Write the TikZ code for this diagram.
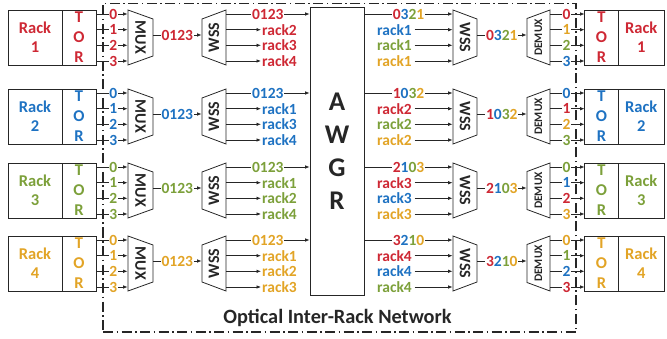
\documentclass[tikz,border=0pt]{standalone}
\usepackage{fontspec}
\setmainfont{Carlito}
\usetikzlibrary{arrows.meta}
\definecolor{cR}{RGB}{206,40,52}
\definecolor{cB}{RGB}{30,114,194}
\definecolor{cG}{RGB}{124,160,58}
\definecolor{cO}{RGB}{226,164,38}
\newcommand\lblfont{\fontsize{15.5}{15.5}\selectfont\bfseries}
\newcommand\rackfont{\fontsize{16.5}{19}\selectfont\bfseries}
\newcommand\torfont{\fontsize{16.5}{20}\selectfont\bfseries}
\newcommand\devfont{\fontsize{16}{16}\selectfont\bfseries}
\newcommand\demfont{\fontsize{11.5}{11.5}\selectfont\bfseries}
\newcommand\awgrfont{\fontsize{27}{33}\selectfont\bfseries}
\newcommand\titlefont{\fontsize{20.3}{20.3}\selectfont\bfseries}
\begin{document}
\begin{tikzpicture}[x=1pt,y=-1pt,
  box/.style={draw=black!85, line width=0.8pt},
  conn/.style={draw=black!85, line width=0.75pt, -{Latex[length=4.5pt,width=3.6pt]}},
  lbl/.style={font=\lblfont, inner sep=0.8pt, fill=white},
  lbln/.style={font=\lblfont, inner sep=1pt},
  rackbox/.style={box, minimum height=55pt, inner sep=0pt, align=center, font=\rackfont},
  dev/.style={font=\devfont, inner sep=0pt, text=black!85},
  bound/.style={draw=black!85, line width=1.1pt, dash pattern=on 10pt off 3.5pt on 1.5pt off 3.5pt}]
\useasboundingbox (0,0) rectangle (667,339);
\node[bound, minimum width=473pt, minimum height=328.5pt, inner sep=0pt] (net) at (339.5,167.75) {};
\node[font=\titlefont, text=black!85] (title) at (337.5,318) {Optical Inter-Rack Network};
\node[box, minimum width=54pt, minimum height=288pt, inner sep=0pt] (awgr) at (337,151) {};
\node[font=\awgrfont, align=center, inner sep=0pt, text=black!85] (awgrt) at (337,151) {A\\W\\G\\R};
\foreach \r/\cy/\col/\la/\lb/\lc/\sA/\sB/\sC/\sD/\qA/\qB/\qC/\eA/\eB/\eC/\eD in {
 1/37.5/cR/2/3/4/0/3/2/1/cB/cG/cO/cR/cO/cG/cB,
 2/116.5/cB/1/3/4/1/0/3/2/cR/cG/cO/cB/cR/cO/cG,
 3/190.5/cG/1/2/4/2/1/0/3/cR/cB/cO/cG/cB/cR/cO,
 4/263.5/cO/1/2/3/3/2/1/0/cR/cB/cG/cO/cG/cB/cR}{
  % left rack and TOR
  \node[rackbox, minimum width=54pt, text=\col] (rkL\r) at (35,\cy) {Rack\\\r};
  \node[rackbox, minimum width=34pt, text=\col, font=\torfont] (torL\r) at (79,\cy) {T\\O\\R};
  % ports to MUX
  \foreach \p/\of in {0/-23.5,1/-7.8,2/7.8,3/23.5}{
    \coordinate (tp\r\p) at (96,\cy+\of);
    \coordinate (mi\r\p) at (127.6,\cy+\of);
    \draw[conn] (tp\r\p) -- node[lbl,text=\col,pos=0.55]{\p} (mi\r\p);
  }
  % MUX
  \draw[box] (128,\cy-27.5) -- (153,\cy-18.5) -- (153,\cy+18.5) -- (128,\cy+27.5) -- cycle;
  \node[dev, rotate=-90] (mux\r) at (140.5,\cy) {MUX};
  \coordinate (mo\r) at (153,\cy-2.5);
  \coordinate (wi\r) at (201.6,\cy-2.5);
  \draw[conn] (mo\r) -- node[lbl,text=\col]{0123} (wi\r);
  % left WSS
  \draw[box] (202,\cy-18.5) -- (226,\cy-27.5) -- (226,\cy+27.5) -- (202,\cy+18.5) -- cycle;
  \node[dev, rotate=90] (wssL\r) at (214,\cy) {WSS};
  \coordinate (wo\r0) at (226,\cy-23.5);
  \coordinate (aw\r) at (309.6,\cy-23.5);
  \draw[conn] (wo\r0) -- node[lbl,text=\col]{0123} (aw\r);
  \foreach \p/\of/\nm in {1/-7.8/\la,2/7.8/\lb,3/23.5/\lc}{
    \coordinate (wo\r\p) at (226,\cy+\of);
    \coordinate (wt\r\p) at (261,\cy+\of);
    \draw[conn] (wo\r\p) -- (wt\r\p);
    \node[lbln, anchor=west, text=\col] (rkt\r\p) at (wt\r\p) {rack\nm};
  }
  % AWGR outputs
  \coordinate (ao\r) at (364.4,\cy-23.5);
  \coordinate (wri\r0) at (452.6,\cy-23.5);
  \draw[conn] (ao\r) -- node[lbl]{\textcolor{cR}{\sA}\textcolor{cB}{\sB}\textcolor{cG}{\sC}\textcolor{cO}{\sD}} (wri\r0);
  \foreach \p/\of/\kc in {1/-7.8/\qA,2/7.8/\qB,3/23.5/\qC}{
    \node[lbln, anchor=east, text=\kc] (rkr\r\p) at (413,\cy+\of) {rack\r};
    \coordinate (wri\r\p) at (452.6,\cy+\of);
    \draw[conn] ([xshift=1.5pt]rkr\r\p.east) -- (wri\r\p);
  }
  % right WSS
  \draw[box] (453,\cy-27.5) -- (477,\cy-18.5) -- (477,\cy+18.5) -- (453,\cy+27.5) -- cycle;
  \node[dev, rotate=-90] (wssR\r) at (465,\cy) {WSS};
  \coordinate (wro\r) at (477,\cy-2.5);
  \coordinate (dmi\r) at (526.6,\cy-2.5);
  \draw[conn] (wro\r) -- node[lbl]{\textcolor{cR}{\sA}\textcolor{cB}{\sB}\textcolor{cG}{\sC}\textcolor{cO}{\sD}} (dmi\r);
  % DEMUX
  \draw[box] (527,\cy-19) -- (550,\cy-27.5) -- (550,\cy+27.5) -- (527,\cy+19) -- cycle;
  \node[dev, font=\demfont, rotate=90] (dmx\r) at (538.5,\cy) {DEMUX};
  \foreach \p/\of/\kc in {0/-23.5/\eA,1/-7.8/\eB,2/7.8/\eC,3/23.5/\eD}{
    \coordinate (dmo\r\p) at (550,\cy+\of);
    \coordinate (tri\r\p) at (584.6,\cy+\of);
    \draw[conn] (dmo\r\p) -- node[lbl,text=\kc,pos=0.48]{\p} (tri\r\p);
  }
  % right TOR and rack
  \node[rackbox, minimum width=34pt, text=\col, font=\torfont] (torR\r) at (601.5,\cy) {T\\O\\R};
  \node[rackbox, minimum width=45.5pt, text=\col] (rkR\r) at (641.25,\cy) {Rack\\\r};
}
\end{tikzpicture}
\end{document}
